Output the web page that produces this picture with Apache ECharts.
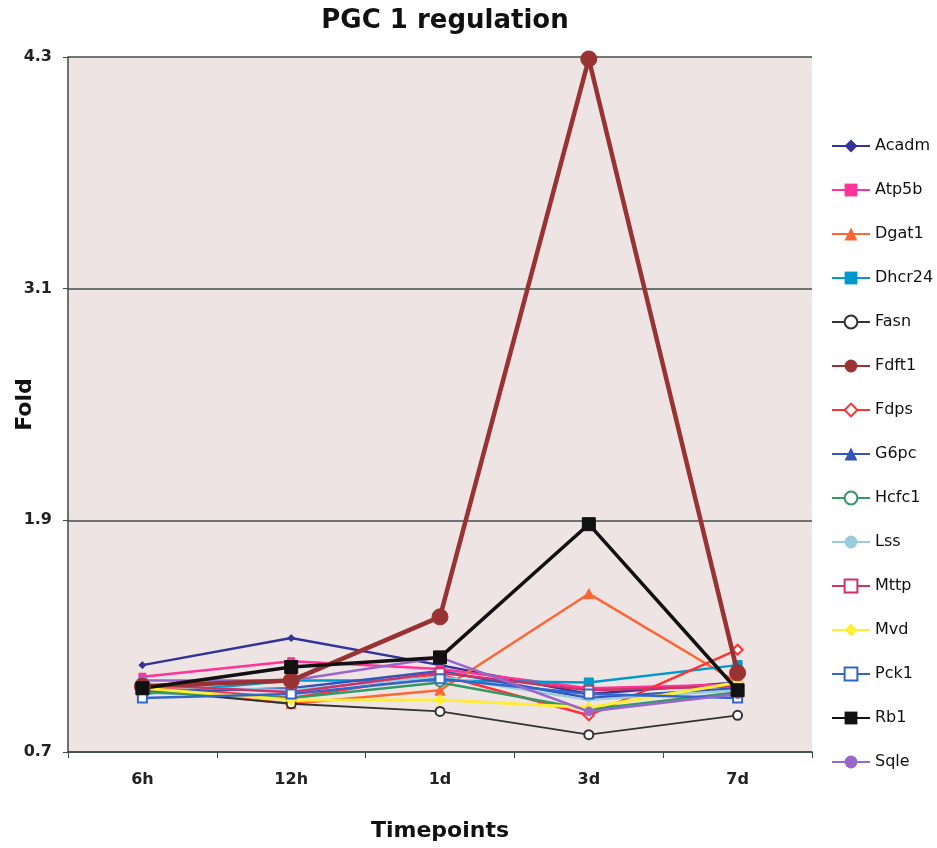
<!DOCTYPE html>
<html><head><meta charset="utf-8">
<script src="https://cdn.jsdelivr.net/npm/echarts@6/dist/echarts.min.js"></script>
<style>html,body{margin:0;padding:0;background:#fff}#c{width:937px;height:848px}</style>
</head><body><div id="c"></div>
<script>
const categories = ['6h','12h','1d','3d','7d'];
const yTicks = [0.7, 1.9, 3.1, 4.3];
const Acadm  = [1.15, 1.29, 1.15, 1.00, 1.06];
const Atp5b  = [1.09, 1.17, 1.13, 1.03, 1.05];
const Dgat1  = [1.03, 0.95, 1.02, 1.52, 1.06];
const Dhcr24 = [1.00, 1.07, 1.07, 1.06, 1.15];
const Fasn   = [1.02, 0.95, 0.91, 0.79, 0.89];
const Fdft1  = [1.04, 1.07, 1.40, 4.29, 1.11];
const Fdps   = [1.04, 0.98, 1.10, 0.89, 1.23];
const G6pc   = [1.01, 1.03, 1.12, 0.98, 1.03];
const Hcfc1  = [1.01, 0.98, 1.06, 0.92, 1.01];
const Lss    = [1.04, 1.02, 1.09, 0.97, 1.02];
const Mttp   = [1.05, 1.01, 1.11, 1.02, 1.04];
const Mvd    = [1.03, 0.97, 0.97, 0.93, 1.06];
const Pck1   = [0.98, 1.00, 1.08, 1.00, 0.98];
const Rb1    = [1.03, 1.14, 1.19, 1.88, 1.02];
const Sqle   = [1.07, 1.07, 1.19, 0.91, 1.00];

const defs = [
  ['Acadm', Acadm, '#333399', 'diamond', 7, 2.5],
  ['Atp5b', Atp5b, '#ff3399', 'rect', 7, 2.5],
  ['Dgat1', Dgat1, '#ff6633', 'triangle', 10, 2.5],
  ['Dhcr24', Dhcr24, '#0099cc', 'rect', 9, 2.5],
  ['Fasn', Fasn, '#333333', 'emptyCircle', 9, 1.8],
  ['Fdft1', Fdft1, '#993333', 'circle', 16, 4.5],
  ['Fdps', Fdps, '#ff3333', 'emptyDiamond', 10, 2.5],
  ['G6pc', G6pc, '#3355bb', 'triangle', 4, 2.5],
  ['Hcfc1', Hcfc1, '#339966', 'emptyCircle', 8, 2.5],
  ['Lss', Lss, '#99ccdd', 'circle', 4, 2.5],
  ['Mttp', Mttp, '#cc3366', 'emptyRect', 9, 2.5],
  ['Mvd', Mvd, '#ffee33', 'diamond', 11, 3],
  ['Pck1', Pck1, '#3366cc', 'emptyRect', 9, 2.5],
  ['Rb1', Rb1, '#111111', 'rect', 13, 3.5],
  ['Sqle', Sqle, '#9966cc', 'circle', 9, 2.5]
];

const chart = echarts.init(document.getElementById('c'), null, {renderer:'canvas'});
const font = 'DejaVu Sans';
chart.setOption({
  animation: false,
  title: {text: 'PGC 1 regulation', left: 440, top: 3, textAlign: 'center',
    textStyle: {fontFamily: font, fontWeight: 'bold', fontSize: 26, color: '#111'}},
  grid: {left: 68, right: 125, top: 57, bottom: 96, show: true, backgroundColor: '#eee4e4',
    borderWidth: 0, outerBoundsMode: 'none', containLabel: false},
  legend: {
    orient: 'vertical', left: 826, top: 133, itemWidth: 38, itemHeight: 16, itemGap: 28,
    textStyle: {fontFamily: font, fontSize: 16, color: '#111'},
    data: defs.map(d => d[0])
  },
  xAxis: {
    type: 'category', data: categories, boundaryGap: true,
    name: 'Timepoints', nameLocation: 'middle', nameGap: 68, nameMoveOverlap: false,
    nameTextStyle: {fontFamily: font, fontWeight: 'bold', fontSize: 22, color: '#111'},
    axisLine: {lineStyle: {color: '#3a4a45', width: 1.5}},
    axisTick: {show: true, alignWithLabel: false, length: 6, lineStyle: {color: '#3a4a45'}},
    axisLabel: {fontFamily: font, fontSize: 16, fontWeight: 'bold', color: '#222', margin: 20}
  },
  yAxis: {
    type: 'value', min: yTicks[0], max: yTicks[yTicks.length-1], interval: 1.2,
    name: 'Fold', nameLocation: 'middle', nameGap: 32, nameRotate: 90, nameMoveOverlap: false,
    nameTextStyle: {fontFamily: font, fontWeight: 'bold', fontSize: 22, color: '#111'},
    axisLine: {show: true, lineStyle: {color: '#3a4a45', width: 1.5}},
    axisTick: {show: true, length: 5, lineStyle: {color: '#3a4a45'}},
    axisLabel: {fontFamily: font, fontSize: 16, fontWeight: 'bold', color: '#222', margin: 16,
      formatter: v => Number(v).toFixed(1)},
    splitLine: {show: true, lineStyle: {color: '#3f4f4a', width: 1.5}}
  },
  series: defs.map(d => ({
    name: d[0], type: 'line', data: d[1],
    symbol: d[3], symbolSize: d[4],
    lineStyle: {color: d[2], width: d[5]},
    itemStyle: {color: d[2], borderColor: d[2]},
    z: d[0] === 'Fdft1' || d[0] === 'Rb1' ? 3 : 2
  }))
});
</script></body></html>
